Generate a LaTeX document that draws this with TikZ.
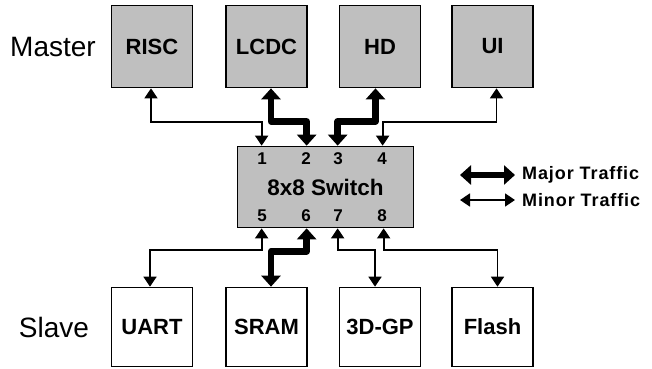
\documentclass[tikz,border=0pt]{standalone}
\usepackage{fontspec}
\setmainfont{Liberation Sans}
\usetikzlibrary{arrows.meta}
\begin{document}
\begin{tikzpicture}[x=1pt,y=-1pt,
  master/.style={draw=black,line width=1.7pt,fill=black!25,minimum width=81pt,minimum height=82pt,inner sep=0pt,font=\fontsize{22}{25}\selectfont\bfseries},
  slave/.style={draw=black,line width=1.7pt,fill=white,minimum width=81pt,minimum height=79pt,inner sep=0pt,font=\fontsize{22}{25}\selectfont\bfseries},
  switchbox/.style={draw=black,line width=1.7pt,fill=black!25,minimum width=176pt,minimum height=81pt,inner sep=0pt},
  portnum/.style={font=\fontsize{17}{19}\selectfont\bfseries,inner sep=0pt},
  rolelabel/.style={font=\fontsize{28}{32}\selectfont,inner sep=0pt},
  legendtext/.style={font=\fontsize{18}{20}\selectfont\bfseries\addfontfeature{LetterSpace=5},inner sep=0pt,anchor=west},
  minor/.style={line width=1.8pt,{Triangle[width=13pt,length=10pt]}-{Triangle[width=13pt,length=10pt]}},
  major/.style={line width=6.5pt,line join=round,{Triangle[width=19pt,length=11pt]}-{Triangle[width=19pt,length=11pt]}}]
\useasboundingbox (0,0) rectangle (652,368);
% masters
\node[master] (risc) at (152,46.5) {RISC};
\node[master] (lcdc) at (266.5,46.5) {LCDC};
\node[master] (hd) at (380,46.5) {HD};
\node[master] (ui) at (492.5,46.5) {UI};
% slaves
\node[slave] (uart) at (152,327) {UART};
\node[slave] (sram) at (266.5,327) {SRAM};
\node[slave] (gp) at (380,327) {3D-GP};
\node[slave] (flash) at (492.5,327) {Flash};
% role labels
\node[rolelabel] (mlabel) at (53,47) {Master};
\node[rolelabel] (slabel) at (54,327) {Slave};
% switch
\node[switchbox] (sw) at (325.5,187) {};
\node[font=\fontsize{22.5}{26}\selectfont\bfseries,inner sep=0pt] (swlabel) at (325.5,187) {8x8 Switch};
\node[portnum] (n1) at (262,159) {1};
\node[portnum] (n2) at (306,159) {2};
\node[portnum] (n3) at (338,159) {3};
\node[portnum] (n4) at (382,159) {4};
\node[portnum] (n5) at (262,216) {5};
\node[portnum] (n6) at (306,216) {6};
\node[portnum] (n7) at (338,216) {7};
\node[portnum] (n8) at (382,216) {8};
% port coordinates on switch edges
\path (sw.north west) ++(25,0) coordinate (p1);
\path (sw.north west) ++(70,0) coordinate (p2);
\path (sw.north west) ++(101,0) coordinate (p3);
\path (sw.north west) ++(146,0) coordinate (p4);
\path (sw.south west) ++(25,0) coordinate (p5);
\path (sw.south west) ++(70,0) coordinate (p6);
\path (sw.south west) ++(101,0) coordinate (p7);
\path (sw.south west) ++(147,0) coordinate (p8);
% master connections
\draw[minor] ([xshift=-1]risc.south) -- ++(0,34) -| (p1);
\draw[major] ([xshift=4.5]lcdc.south) -- ++(0,33) -| (p2);
\draw[major] ([xshift=-4.5]hd.south) -- ++(0,33) -| (p3);
\draw[minor] ([xshift=4]ui.south) -- ++(0,34) -| (p4);
% slave connections
\draw[minor] (p5) -- ++(0,22) -| ([xshift=-2]uart.north);
\draw[major] (p6) -- ++(0,23) -| ([xshift=4.5]sram.north);
\draw[minor] (p7) -- ++(0,22) -| ([xshift=-5]gp.north);
\draw[minor] (p8) -- ++(0,22) -| ([xshift=5]flash.north);
% legend
\coordinate (la1) at (460,175);
\coordinate (la2) at (515,175);
\coordinate (lb1) at (460,200);
\coordinate (lb2) at (515,200);
\draw[major] (la1) -- (la2);
\draw[minor] (lb1) -- (lb2);
\node[legendtext] (ltmaj) at (522,175) {Major Traffic};
\node[legendtext] (ltmin) at (522,200) {Minor Traffic};
\end{tikzpicture}
\end{document}
